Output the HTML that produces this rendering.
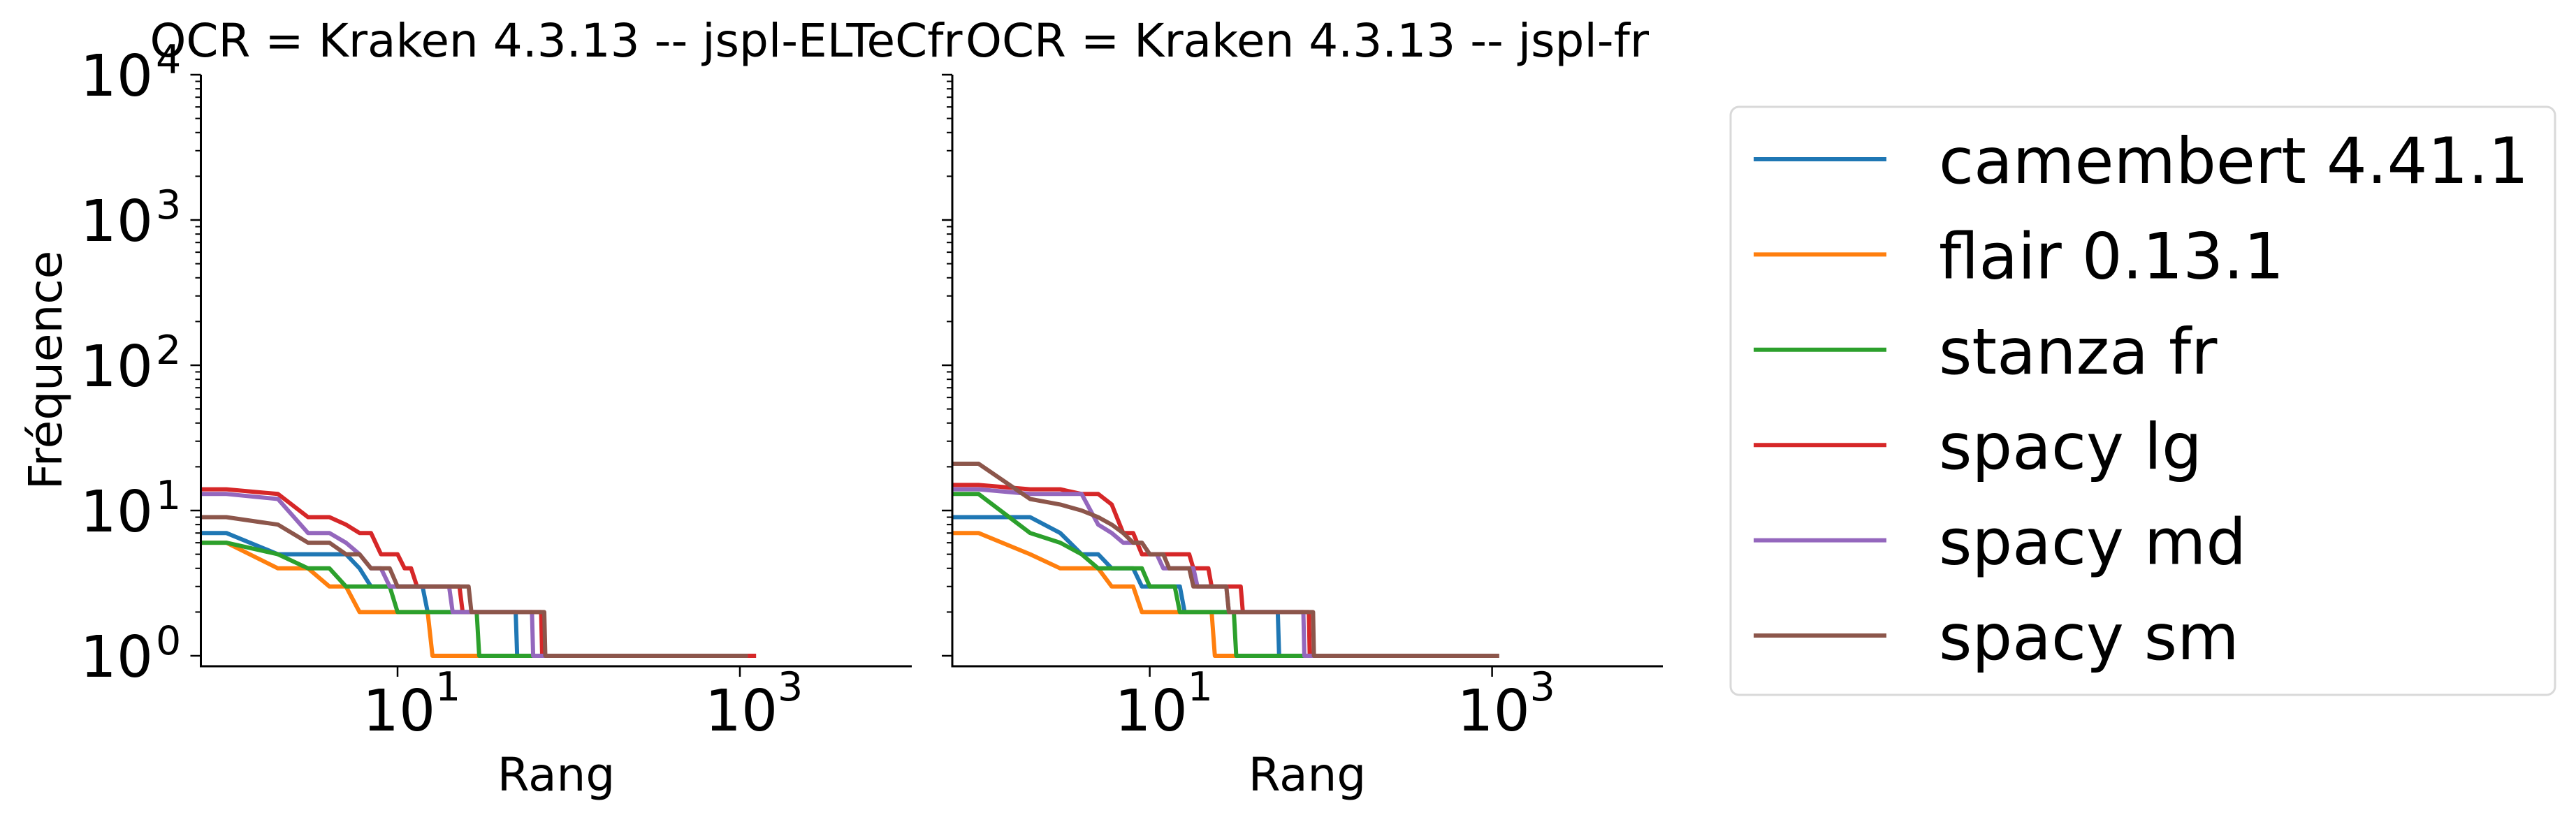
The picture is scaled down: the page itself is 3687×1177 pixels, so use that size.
<!DOCTYPE html>
<html><head><meta charset="utf-8"><style>
html,body{margin:0;padding:0;background:#fff;}
svg{display:block;font-family:"DejaVu Sans","Liberation Sans",sans-serif;}
</style></head><body>
<svg id="chart" width="3687" height="1177" viewBox="0 0 3687 1177" xmlns="http://www.w3.org/2000/svg">
<rect width="3687" height="1177" fill="#fff"/>
<g id="p1"></g>
<g id="p2"></g>
<text x="796" y="81" font-size="66" text-anchor="middle">OCR = Kraken 4.3.13 -- jspl-ELTeCfr</text>
<text x="1871" y="81" font-size="66" text-anchor="middle">OCR = Kraken 4.3.13 -- jspl-fr</text>
<text x="0" y="0" font-size="66" text-anchor="middle" transform="translate(88,530) rotate(-90)">Fréquence</text>
<text x="796" y="1132" font-size="66" text-anchor="middle">Rang</text>
<text x="1871" y="1132" font-size="66" text-anchor="middle">Rang</text>
<g id="legend">
<rect x="2477" y="153" width="1180" height="842" rx="12" fill="#fff" stroke="#d9d9d9" stroke-width="3"/>
</g>
</svg>
<script>
const NS = "http://www.w3.org/2000/svg";
const seriesNames = ["camembert 4.41.1","flair 0.13.1","stanza fr","spacy lg","spacy md","spacy sm"];
const seriesColors = ["#1f77b4","#ff7f0e","#2ca02c","#d62728","#9467bd","#8c564b"];
const yTickExps = [0,1,2,3,4];
const xTickExps = [1,3];
// Panel 1: frequency values and how many words share each value
const p1Vals = [[7,5,4,3,2,1],[6,4,3,2,1],[6,5,4,3,2,1],[14,13,9,8,7,5,4,3,2,1],[13,12,7,6,5,4,3,2,1],[9,8,6,5,4,3,2,1]];
const p1Counts = [[2,4,1,8,35,1062],[2,2,2,10,1096],[2,1,2,5,20,1082],[2,1,2,1,2,3,2,11,46,1175],[2,1,2,1,1,2,12,41,1050],[2,1,2,2,3,17,46,1039]];
// Panel 2
const p2Vals = [[9,7,5,4,3,2,1],[7,5,4,3,2,1],[13,7,6,5,4,3,2,1],[15,14,13,11,7,5,4,3,2,1],[14,13,8,7,6,5,4,3,2,1],[21,12,11,10,9,8,7,6,5,4,3,2,1]];
const p2Counts = [[3,1,2,3,7,41,1043],[2,1,3,3,15,1076],[2,1,1,1,5,5,17,1068],[2,2,2,1,2,9,5,12,51,1014],[2,3,1,1,3,2,7,10,51,1020],[2,1,1,1,1,1,1,2,3,5,11,62,1009]];

const yTop = 107, yBottom = 954, yDec = 208, yZero = 939;
function ys(v){ return yZero - Math.log10(v)*yDec; }

function mk(tag, attrs, parent){ const e=document.createElementNS(NS,tag); for(const k in attrs) e.setAttribute(k,attrs[k]); parent.appendChild(e); return e; }

function drawPanel(g, x0, x1, x10, vals, counts, showYLabels, pid){
  const xDec = 245;
  const xs = l => x10 + (l-1)*xDec;
  const cid = "clip"+pid;
  const cp = mk("clipPath",{id:cid},g);
  mk("rect",{x:x0,y:yTop-10,width:x1-x0+10,height:yBottom-yTop+8},cp);
  const lines = mk("g",{"clip-path":"url(#"+cid+")"},g);
  for(let s=0;s<vals.length;s++){
    let pts=[]; let idx=0;
    for(let k=0;k<vals[s].length;k++){
      for(let c=0;c<counts[s][k];c++){
        const x = idx===0 ? x0-20 : xs(Math.log10(idx));
        if(idx<200 || c===0 || c===counts[s][k]-1) pts.push(x.toFixed(1)+","+ys(vals[s][k]).toFixed(1));
        idx++;
      }
    }
    const p = mk("polyline",{points:pts.join(" "),fill:"none",stroke:seriesColors[s],"stroke-width":6,"stroke-linejoin":"round"},lines);
    
    
  }
  const sp1 = mk("line",{x1:x0,y1:yTop,x2:x0,y2:yBottom+1.5,stroke:"#000","stroke-width":3},g);
  
  
  const sp2 = mk("line",{x1:x0-1.5,y1:yBottom,x2:x1,y2:yBottom,stroke:"#000","stroke-width":3},g);
  
  
  for(const e of yTickExps){
    const y=ys(Math.pow(10,e));
    mk("line",{x1:x0-15,y1:y,x2:x0,y2:y,stroke:"#000","stroke-width":2.5},g);
    if(e<4) for(let m=2;m<10;m++){ const ym=ys(m*Math.pow(10,e)); mk("line",{x1:x0-8,y1:ym,x2:x0,y2:ym,stroke:"#000","stroke-width":2},g); }
    if(showYLabels){
      const t=mk("text",{x:219,y:y+30,"font-size":82,"text-anchor":"end"},g);
      
      
      t.textContent="10";
      const s=mk("text",{x:223,y:y-2,"font-size":57,"text-anchor":"start"},g);
      s.textContent=String(e);
    }
  }
  for(const e of xTickExps){
    const x=xs(e);
    mk("line",{x1:x,y1:yBottom,x2:x,y2:yBottom+15,stroke:"#000","stroke-width":2.5},g);
    const t=mk("text",{x:x+2,y:1046,"font-size":82,"text-anchor":"middle"},g);
    
    
    t.textContent="10";
    const s=mk("text",{x:x+54,y:1003,"font-size":57,"text-anchor":"start"},g);
    s.textContent=String(e);
  }
}
drawPanel(document.getElementById("p1"),287.5,1305,569,p1Vals,p1Counts,true,"p1");
drawPanel(document.getElementById("p2"),1363,2380,1645.6,p2Vals,p2Counts,false,"p2");

const lg=document.getElementById("legend");
for(let s=0;s<seriesNames.length;s++){
  const y=228+s*136.4;
  const en=mk("g",{},lg);
  
  
  mk("line",{x1:2510,y1:y,x2:2700,y2:y,stroke:seriesColors[s],"stroke-width":6},en);
  const t=mk("text",{x:2775,y:y+34,"font-size":91},en);
  t.textContent=seriesNames[s];
}
</script>
</body></html>
